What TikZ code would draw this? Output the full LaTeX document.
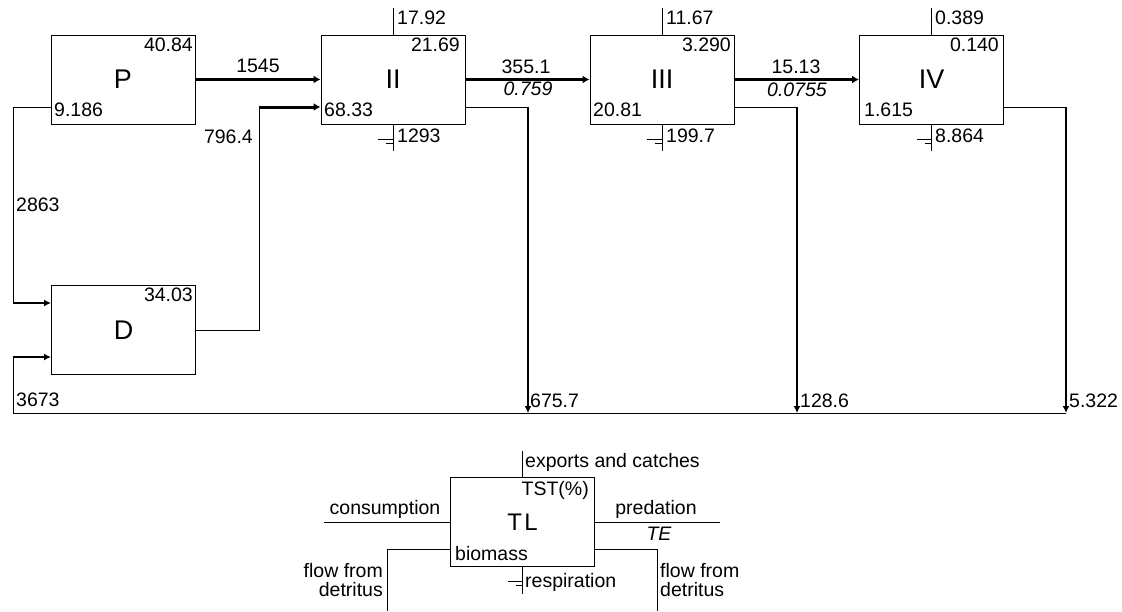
\documentclass[tikz,border=0pt]{standalone}
\usepackage{fontspec}
\setmainfont{Liberation Sans}
\usetikzlibrary{arrows.meta}
\begin{document}
\begin{tikzpicture}[x=1pt,y=-1pt,
  box/.style={draw,line width=0.9pt,minimum width=144pt,minimum height=89pt,inner sep=0pt,font=\fontsize{27}{27}\selectfont},
  lab/.style={inner sep=0pt,font=\fontsize{19.5}{21}\selectfont},
  wire/.style={line width=1pt},
  heavy/.style={line width=3pt,-{Latex[length=7pt,width=8pt]}},
  medium/.style={line width=2pt,-{Latex[length=7pt,width=7pt]}},
  ground/.pic={\draw[line width=1pt] (0,0) -- (0,27) (0,15) -- (-15,15) (0,19) -- (-7,19);}
]
\useasboundingbox (0,0) rectangle (1122,611);

% boxes
\node[box] (P) at (123,79.5) {P};
\node[box] (II) at (393,79.5) {II};
\node[box] (III) at (662,79.5) {III};
\node[box] (IV) at (931.5,79.5) {IV};
\node[box] (D) at (123.5,330) {D};
\node[box,font=\fontsize{24}{24}\selectfont] (TL) at (522.5,522) {T\kern2.5pt L};

% coordinates
\coordinate (Pleft) at (13,107);
\coordinate (Din1) at (13,303);
\coordinate (Din2) at (13,357);
\coordinate (BL) at (13,413);
\coordinate (Dright) at (259,330);
\coordinate (DIIc) at (259,107);
\coordinate (IIdrop) at (528,107);
\coordinate (IIend) at (528,413);
\coordinate (IIIdrop) at (797,107);
\coordinate (IIIend) at (797,413);
\coordinate (IVdrop) at (1066,107);
\coordinate (IVend) at (1066,413);

% main flows
\draw[heavy] (P) -- (II);
\draw[heavy] (II) -- (III);
\draw[heavy] (III) -- (IV);
\draw[wire] (D.east) -- (Dright) -- (DIIc);
\draw[heavy] (DIIc) -- (DIIc -| II.west);
\draw[wire] ([yshift=-27.5pt]P.west) -- (Pleft) -- (Din1);
\draw[medium] (Din1) -- (Din1 -| D.west);
\draw[wire] (IVend) -- (BL) -- (Din2);
\draw[medium] (Din2) -- (Din2 -| D.west);
\draw[wire] ([yshift=-27.5pt]II.east) -- (IIdrop);
\draw[medium] (IIdrop) -- (IIend);
\draw[wire] ([yshift=-27.5pt]III.east) -- (IIIdrop);
\draw[medium,line width=2.8pt] (IIIdrop) -- (IIIend);
\draw[wire] ([yshift=-27.5pt]IV.east) -- (IVdrop);
\draw[medium] (IVdrop) -- (IVend);

% exports and respiration
\draw[wire] (II.north) -- ++(0,-27);
\draw[wire] (III.north) -- ++(0,-27);
\draw[wire] (IV.north) -- ++(0,-27);
\pic at (II.south) {ground};
\pic at (III.south) {ground};
\pic at (IV.south) {ground};

% labels P
\node[lab,anchor=east] (Pb) at (193,45) {40.84};
\node[lab,anchor=west] (Pt) at (54,110) {9.186};
% labels II
\node[lab,anchor=west] (IIe) at (397,18) {17.92};
\node[lab,anchor=east] (IIb) at (460,45) {21.69};
\node[lab,anchor=west] (IIt) at (324,110) {68.33};
\node[lab,anchor=west] (IIr) at (397,136) {1293};
% labels III
\node[lab,anchor=west] (IIIe) at (666,18) {11.67};
\node[lab,anchor=east] (IIIb) at (731,45) {3.290};
\node[lab,anchor=west] (IIIt) at (593,110) {20.81};
\node[lab,anchor=west] (IIIr) at (666,136) {199.7};
% labels IV
\node[lab,anchor=west] (IVe) at (935,18) {0.389};
\node[lab,anchor=east] (IVb) at (999,45) {0.140};
\node[lab,anchor=west] (IVt) at (864,110) {1.615};
\node[lab,anchor=west] (IVr) at (935,136) {8.864};
% flow labels
\node[lab] (f1) at (258,66) {1545};
\node[lab] (f2) at (526,67) {355.1};
\node[lab] (f2e) at (528,89) {\itshape 0.759};
\node[lab] (f3) at (796,67) {15.13};
\node[lab] (f3e) at (797,90) {\itshape 0.0755};
\node[lab,anchor=east] (f4) at (253,137) {796.4};
\node[lab,anchor=west] (f5) at (16,205) {2863};
\node[lab,anchor=east] (Db) at (193,295) {34.03};
\node[lab,anchor=west] (f6) at (16,400) {3673};
\node[lab,anchor=west] (f7) at (530,401) {675.7};
\node[lab,anchor=west] (f8) at (800,401) {128.6};
\node[lab,anchor=west] (f9) at (1069,401) {5.322};

% legend
\coordinate (Lflow) at (387,549);
\coordinate (Lflowend) at (387,611);
\coordinate (Rflow) at (657,549);
\coordinate (Rflowend) at (657,611);
\draw[wire] (TL.north) -- ++(0,-26);
\draw[wire] (TL.west) -- ++(-126,0);
\draw[wire] (TL.east) -- ++(125,0);
\draw[wire] ([yshift=-27pt]TL.west) -- (Lflow) -- (Lflowend);
\draw[wire] ([yshift=-27pt]TL.east) -- (Rflow) -- (Rflowend);
\pic at (TL.south) {ground};
\node[lab,anchor=base west] (Le) at (525,467) {exports and catches};
\node[lab,anchor=east] (Lt) at (589,490) {TST(\%)};
\node[lab,anchor=base] (Lc) at (385,514) {consumption};
\node[lab,anchor=base] (Lp) at (656,514) {predation};
\node[lab] (Lte) at (659,534) {\itshape TE};
\node[lab,anchor=west] (Lb) at (455,554) {biomass};
\node[lab,anchor=base west] (Lr) at (525,587) {respiration};
\node[lab,anchor=base east] (Ll1) at (383,577) {flow from};
\node[lab,anchor=base east] (Ll2) at (383,596) {detritus};
\node[lab,anchor=base west] (Lr1) at (660,577) {flow from};
\node[lab,anchor=base west] (Lr2) at (660,596) {detritus};
\end{tikzpicture}
\end{document}
